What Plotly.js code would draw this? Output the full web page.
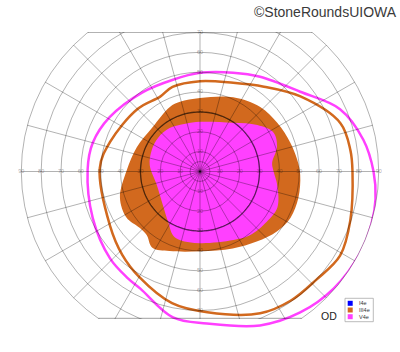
<!DOCTYPE html>
<html><head><meta charset="utf-8">
<script src="https://cdn.plot.ly/plotly-3.0.1.min.js"></script>
<style>
html,body{margin:0;padding:0;background:#fff;overflow:hidden;width:400px;height:352px;}
#data,#grid{position:absolute;left:0;top:-10px;width:400px;height:372px;}
#grid{clip-path:inset(42px 0 43px 0);pointer-events:none;}
</style></head><body>
<div id="data"></div><div id="grid"></div>
<script>
// ---- data (degrees of visual field; theta 0 = right, counter-clockwise) ----
const legendNames = ["I4e", "III4e", "V4e"];
const legendColors = ["#0000FF", "#D2691E", "#FF40FF"];

// V4e filled region
const v4eFillTheta = [90, 56, 39, 28, 18, 7, 1, 350, 335, 323, 308, 296, 270, 254, 247, 238, 222, 197, 173, 156, 141, 125, 107];
const v4eFillR     = [25, 29.6, 37.2, 41.9, 40.8, 36.6, 36.9, 39.5, 43.0, 42.1, 40.8, 38.4, 36.1, 36.0, 34.9, 30.2, 25.2, 22.8, 25.5, 26.6, 27.1, 26.7, 25.2];

// III4e filled region
const iiiFillTheta = [90, 66, 47, 32, 18, 7, 358, 345, 333, 322, 309, 293, 270, 249, 238, 230, 223, 212, 198, 179, 159, 137, 115, 106];
const iiiFillR     = [37, 41, 44.5, 46, 47.7, 49.3, 50.5, 51.3, 51.2, 49.1, 45.4, 42.1, 40.2, 42.9, 45.3, 41.8, 41.6, 43.7, 42.4, 36.9, 34.1, 32.7, 35.9, 36.5];

// III4e outer isopter
const iiiLineTheta = [0, 8, 19, 37, 53, 69.5, 90, 108, 118, 135, 162, 178, 211, 227, 240, 258, 273, 293, 305, 317, 329, 342];
const iiiLineR     = [76.8, 76.5, 74.8, 63.0, 53.5, 47.7, 45.5, 44.8, 42.7, 44.5, 47.7, 50.5, 52.9, 57.4, 61.3, 67.8, 71.0, 77.6, 79.5, 80.0, 82.3, 79.6];

// V4e outer isopter
const v4eLineTheta = [0, 11, 24, 38.5, 57.6, 71.5, 90, 106.4, 126, 149, 165, 179, 203.5, 224, 236, 243, 259.5, 272.6, 291.3, 305.4, 319, 333, 343, 351];
const v4eLineR     = [87.4, 83.8, 77.2, 64.5, 56.5, 52.5, 49.7, 48.2, 49.3, 53.1, 55.9, 56.6, 58.9, 63.0, 64.9, 66.2, 74.7, 76.6, 83.2, 87.1, 89.5, 90.5, 90.3, 89.5];

// axis labels
const hLabels = [10, 20, 30, 40, 50, 60, 70, 80, 90];
const vLabels = [10, 20, 30, 40, 50, 60, 70];
const gridRadii = [5, 10, 20, 30, 40, 50, 60, 70, 80];
const spokeStep = 15;
const topClipDeg = 70, bottomClipDeg = 74;

// ---- geometry of the drawing (page px) ----
const W = 400, H = 372, OFF = 10;
const CX = 200, CY = 171.5 + OFF, RAD = 178.7;
const domain = {x: [(CX - RAD) / W, (CX + RAD) / W], y: [(H - CY - RAD) / H, (H - CY + RAD) / H]};
const px = x => x / W;
const py = y => (H - (y + OFF)) / H;

function closed(a) { return a.concat([a[0]]); }

const dataTraces = [
  {type: 'scatterpolar', r: closed(iiiFillR), theta: closed(iiiFillTheta), mode: 'lines',
   fill: 'toself', fillcolor: legendColors[1], line: {width: 0, shape: 'spline', color: legendColors[1]}, showlegend: false, hoverinfo: 'skip'},
  {type: 'scatterpolar', r: closed(v4eFillR), theta: closed(v4eFillTheta), mode: 'lines',
   fill: 'toself', fillcolor: legendColors[2], line: {width: 0, shape: 'spline', color: legendColors[2]}, showlegend: false, hoverinfo: 'skip'},
  {type: 'scatterpolar', r: closed(iiiLineR), theta: closed(iiiLineTheta), mode: 'lines',
   line: {width: 2.5, shape: 'spline', color: legendColors[1]}, showlegend: false, hoverinfo: 'skip'},
  {type: 'scatterpolar', r: closed(v4eLineR), theta: closed(v4eLineTheta), mode: 'lines',
   line: {width: 2.5, shape: 'spline', color: legendColors[2]}, showlegend: false, hoverinfo: 'skip'},
  {type: 'scatterpolar', mode: 'text', showlegend: false, hoverinfo: 'skip',
   r: hLabels.concat(hLabels, vLabels, vLabels),
   theta: hLabels.map(() => 0).concat(hLabels.map(() => 180), vLabels.map(() => 90), vLabels.map(() => 270)),
   text: hLabels.concat(hLabels, vLabels, vLabels).map(String),
   textposition: 'middle center',
   textfont: {family: 'Liberation Sans, Arial', size: 5.5, color: 'rgba(0,0,0,0.38)'}}
];

const shapes = [{type: 'rect', xref: 'paper', yref: 'paper', x0: px(345), x1: px(373.3), y0: py(321.7), y1: py(298.3),
                 line: {color: '#aaaaaa', width: 0.8}, fillcolor: '#ffffff'}];
const annotations = [
  {xref: 'paper', yref: 'paper', x: px(398.5), y: py(2), xanchor: 'right', yanchor: 'top', showarrow: false,
   text: '©StoneRoundsUIOWA', font: {family: 'Liberation Sans, Arial', size: 14, color: '#3a3a3a'}},
  {xref: 'paper', yref: 'paper', x: px(329), y: py(316), xanchor: 'center', yanchor: 'middle', showarrow: false,
   text: 'OD', font: {family: 'Liberation Sans, Arial', size: 10.5, color: '#222'}}
];
const rowY = [303.3, 310, 316.7];
legendNames.forEach((n, i) => {
  shapes.push({type: 'rect', xref: 'paper', yref: 'paper', x0: px(347.7), x1: px(352.7), y0: py(rowY[i] + 2.5), y1: py(rowY[i] - 2.5),
               line: {width: 0}, fillcolor: legendColors[i]});
  annotations.push({xref: 'paper', yref: 'paper', x: px(356.5), y: py(rowY[i]), xanchor: 'left', yanchor: 'middle', showarrow: false,
                    text: n, font: {family: 'Liberation Sans, Arial', size: 5.5, color: '#333'}});
});

Plotly.newPlot('data', dataTraces, {
  width: W, height: H, margin: {l: 0, r: 0, t: 0, b: 0}, paper_bgcolor: 'rgba(0,0,0,0)', showlegend: false,
  polar: {domain: domain, bgcolor: 'rgba(0,0,0,0)',
          radialaxis: {range: [0, 90], visible: false},
          angularaxis: {visible: false, rotation: 0, direction: 'counterclockwise'}},
  shapes: shapes, annotations: annotations
}, {staticPlot: true});

// ---- grid overlay ----
const circ = [];
for (let t = 0; t <= 360; t += 2) circ.push(t);
const tTop = Math.asin(topClipDeg / 90) * 180 / Math.PI;
const tBot = Math.asin(bottomClipDeg / 90) * 180 / Math.PI;
const gc = 'rgba(0,0,0,0.3)';
const gridTraces = [
  {type: 'scatterpolar', mode: 'lines', r: circ.map(() => 30), theta: circ, line: {color: 'rgba(0,0,0,0.5)', width: 1.3}, hoverinfo: 'skip'},
  {type: 'scatterpolar', mode: 'lines', r: [90, 90], theta: [tTop, 180 - tTop], line: {color: gc, width: 1.2}, hoverinfo: 'skip'},
  {type: 'scatterpolar', mode: 'lines', r: [90, 90], theta: [-tBot, 180 + tBot], line: {color: gc, width: 1.2}, hoverinfo: 'skip'}
];
Plotly.newPlot('grid', gridTraces, {
  width: W, height: H, margin: {l: 0, r: 0, t: 0, b: 0}, paper_bgcolor: 'rgba(0,0,0,0)', showlegend: false,
  polar: {domain: domain, bgcolor: 'rgba(0,0,0,0)',
          radialaxis: {range: [0, 90], tickvals: gridRadii, showticklabels: false, ticks: '', showline: false,
                       gridcolor: gc, gridwidth: 1},
          angularaxis: {rotation: 0, direction: 'counterclockwise', tickmode: 'linear', tick0: 0, dtick: spokeStep,
                        showticklabels: false, ticks: '', showline: true, linecolor: gc, linewidth: 1,
                        gridcolor: gc, gridwidth: 1}}
}, {staticPlot: true});
</script></body></html>
